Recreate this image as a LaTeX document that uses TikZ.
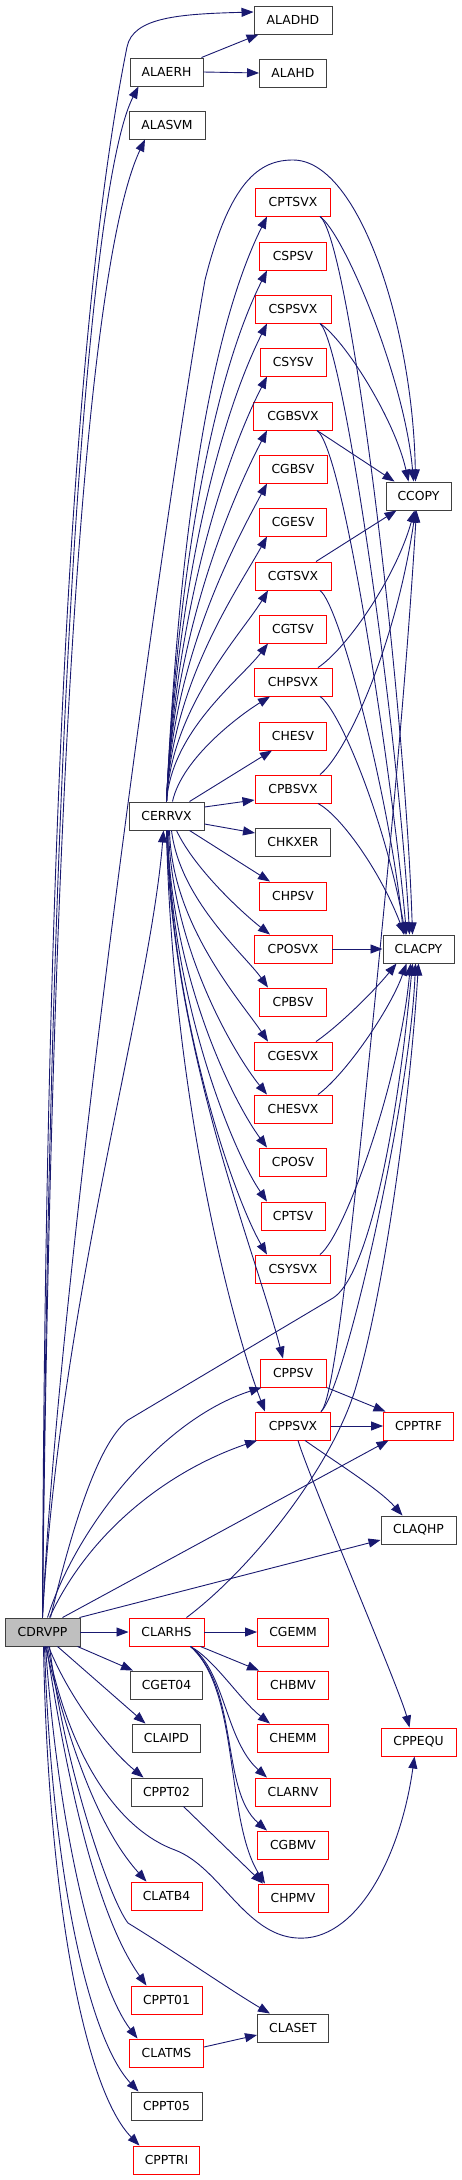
\documentclass[tikz,border=0pt]{standalone}
\usepackage{fontspec}
\newfontfamily\dvs{DejaVu Sans}
\usetikzlibrary{arrows.meta}
\definecolor{edgeblue}{HTML}{191970}
\definecolor{boxgray}{HTML}{404040}
\definecolor{boxred}{HTML}{FF0000}
\definecolor{rootfill}{HTML}{BFBFBF}
\tikzset{
  fn/.style={draw, line width=0.95pt, minimum height=28pt, inner sep=0pt,
    font=\dvs\fontsize{12.4}{14}\selectfont, text=black},
  bk/.style={fn, draw=boxgray},
  rd/.style={fn, draw=boxred},
  root/.style={fn, draw=boxgray, fill=rootfill},
  e/.style={draw=edgeblue, line width=0.9pt, -{Triangle[length=12pt,width=9pt]}, edgeblue}
}
\begin{document}
\begin{tikzpicture}[x=1pt,y=1pt]
\useasboundingbox (0,0) rectangle (461,-2180);
% nodes
\node[bk, minimum width=78pt] (ALADHD) at (293,-20) {ALADHD};
\node[bk, minimum width=73pt] (ALAERH) at (166.5,-72) {ALAERH};
\node[bk, minimum width=67pt] (ALAHD) at (293,-73) {ALAHD};
\node[bk, minimum width=76pt] (ALASVM) at (167,-125) {ALASVM};
\node[rd, minimum width=75pt] (CPTSVX) at (293,-202) {CPTSVX};
\node[rd, minimum width=67pt] (CSPSV) at (293,-256) {CSPSV};
\node[rd, minimum width=76pt] (CSPSVX) at (293,-309) {CSPSVX};
\node[rd, minimum width=66pt] (CSYSV) at (293,-362) {CSYSV};
\node[rd, minimum width=79pt] (CGBSVX) at (293,-416) {CGBSVX};
\node[rd, minimum width=68pt] (CGBSV) at (293,-469) {CGBSV};
\node[bk, minimum width=65pt] (CCOPY) at (418.5,-496) {CCOPY};
\node[rd, minimum width=67pt] (CGESV) at (293,-522) {CGESV};
\node[rd, minimum width=76pt] (CGTSVX) at (293,-576) {CGTSVX};
\node[rd, minimum width=67pt] (CGTSV) at (293,-629) {CGTSV};
\node[rd, minimum width=78pt] (CHPSVX) at (293,-682) {CHPSVX};
\node[rd, minimum width=67pt] (CHESV) at (293,-736) {CHESV};
\node[rd, minimum width=76pt] (CPBSVX) at (293,-789) {CPBSVX};
\node[bk, minimum width=75pt] (CERRVX) at (166.5,-816) {CERRVX};
\node[bk, minimum width=75pt] (CHKXER) at (293,-842) {CHKXER};
\node[rd, minimum width=67pt] (CHPSV) at (293,-896) {CHPSV};
\node[rd, minimum width=78pt] (CPOSVX) at (293,-949) {CPOSVX};
\node[bk, minimum width=71pt] (CLACPY) at (418.5,-949) {CLACPY};
\node[rd, minimum width=67pt] (CPBSV) at (293,-1002) {CPBSV};
\node[rd, minimum width=78pt] (CGESVX) at (293,-1056) {CGESVX};
\node[rd, minimum width=78pt] (CHESVX) at (293,-1109) {CHESVX};
\node[rd, minimum width=67pt] (CPOSV) at (293,-1162) {CPOSV};
\node[rd, minimum width=64pt] (CPTSV) at (293,-1216) {CPTSV};
\node[rd, minimum width=75pt] (CSYSVX) at (293,-1269) {CSYSVX};
\node[rd, minimum width=66pt] (CPPSV) at (293,-1373) {CPPSV};
\node[rd, minimum width=75pt] (CPPSVX) at (293,-1426) {CPPSVX};
\node[rd, minimum width=70pt] (CPPTRF) at (418.5,-1426) {CPPTRF};
\node[bk, minimum width=75pt] (CLAQHP) at (418.5,-1530) {CLAQHP};
\node[root, minimum width=75pt] (CDRVPP) at (42.5,-1632) {CDRVPP};
\node[rd, minimum width=75pt] (CLARHS) at (166.5,-1632) {CLARHS};
\node[rd, minimum width=71pt] (CGEMM) at (293,-1632) {CGEMM};
\node[bk, minimum width=72pt] (CGET04) at (166.5,-1685) {CGET04};
\node[rd, minimum width=71pt] (CHBMV) at (293,-1685) {CHBMV};
\node[bk, minimum width=68pt] (CLAIPD) at (166.5,-1738) {CLAIPD};
\node[rd, minimum width=71pt] (CHEMM) at (293,-1738) {CHEMM};
\node[rd, minimum width=75pt] (CPPEQU) at (418.5,-1742) {CPPEQU};
\node[bk, minimum width=71pt] (CPPT02) at (166.5,-1792) {CPPT02};
\node[rd, minimum width=75pt] (CLARNV) at (293,-1792) {CLARNV};
\node[rd, minimum width=71pt] (CGBMV) at (293,-1845) {CGBMV};
\node[rd, minimum width=70pt] (CHPMV) at (293,-1898) {CHPMV};
\node[rd, minimum width=71pt] (CLATB4) at (166.5,-1896) {CLATB4};
\node[rd, minimum width=71pt] (CPPT01) at (166.5,-2000) {CPPT01};
\node[bk, minimum width=71pt] (CLASET) at (293,-2028) {CLASET};
\node[rd, minimum width=74pt] (CLATMS) at (166.5,-2053) {CLATMS};
\node[bk, minimum width=71pt] (CPPT05) at (166.5,-2106) {CPPT05};
\node[rd, minimum width=66pt] (CPPTRI) at (166.5,-2160) {CPPTRI};
% CDRVPP upward edges
\draw[e] (CDRVPP.north) .. controls (45,-900) and (70,-330) .. (127,-47) .. controls (133,-17) and (180,-14) .. ([yshift=8pt]ALADHD.west);
\draw[e] (CDRVPP.north) .. controls (50,-700) and (90,-180) .. ([xshift=-28pt]ALAERH.south);
\draw[e] (CDRVPP.north) .. controls (52,-750) and (88,-260) .. ([xshift=-22pt]ALASVM.south);
\draw[e] ([xshift=-2pt]ALAERH.north east) -- ([xshift=5pt]ALADHD.south west);
\draw[e] (ALAERH.east) -- (ALAHD.west);
\draw[e] (CDRVPP.north) .. controls (60,-1250) and (170,-480) .. (205,-280) .. controls (230,-180) and (260,-160) .. (293,-160) .. controls (360,-160) and (413,-330) .. ([xshift=-3pt]CCOPY.north);
\draw[e] (CDRVPP.north) .. controls (60,-1300) and (150,-1000) .. ([xshift=-3pt]CERRVX.south);
% CERRVX upper edges
\draw[e] (CERRVX.north) .. controls (179,-538) and (209,-333) .. ([xshift=-26pt]CPTSVX.south);
\draw[e] (CERRVX.north) .. controls (178,-563) and (214,-376) .. ([xshift=-26pt]CSPSV.south);
\draw[e] (CERRVX.north) .. controls (177,-586) and (219,-419) .. ([xshift=-26pt]CSPSVX.south);
\draw[e] (CERRVX.north) .. controls (176,-610) and (224,-461) .. ([xshift=-26pt]CSYSV.south);
\draw[e] (CERRVX.north) .. controls (174,-635) and (229,-504) .. ([xshift=-26pt]CGBSVX.south);
\draw[e] (CERRVX.north) .. controls (173,-658) and (233,-547) .. ([xshift=-26pt]CGBSV.south);
\draw[e] (CERRVX.north) .. controls (172,-682) and (238,-589) .. ([xshift=-26pt]CGESV.south);
\draw[e] (CERRVX.north) .. controls (171,-707) and (243,-632) .. ([xshift=-25pt]CGTSVX.south);
\draw[e] (CERRVX.north) .. controls (172,-730) and (240,-680) .. ([xshift=-25pt]CGTSV.south);
\draw[e] ([xshift=6pt]CERRVX.north) .. controls (182,-758) and (240,-715) .. ([xshift=-23pt]CHPSVX.south);
\draw[e] ([xshift=23pt]CERRVX.north) -- ([xshift=-21pt]CHESV.south);
\draw[e] ([yshift=9pt]CERRVX.east) -- ([yshift=-11pt]CPBSVX.west);
\draw[e] ([yshift=-8pt]CERRVX.east) -- ([yshift=9pt]CHKXER.west);
% CERRVX lower edges
\draw[e] ([xshift=23pt]CERRVX.south) -- ([xshift=-23pt]CHPSV.north);
\draw[e] ([xshift=10pt]CERRVX.south) .. controls (195,-870) and (245,-915) .. ([xshift=-23pt]CPOSVX.north);
\draw[e] ([xshift=5pt]CERRVX.south) .. controls (180,-900) and (245,-955) .. ([xshift=-25pt]CPBSV.north);
\draw[e] ([xshift=3pt]CERRVX.south) .. controls (172,-925) and (240,-1000) .. ([xshift=-25pt]CGESVX.north);
\draw[e] ([xshift=2pt]CERRVX.south) .. controls (172,-950) and (235,-1055) .. ([xshift=-26pt]CHESVX.north);
\draw[e] ([xshift=1pt]CERRVX.south) .. controls (171,-975) and (232,-1100) .. ([xshift=-26pt]CPOSV.north);
\draw[e] ([xshift=1pt]CERRVX.south) .. controls (171,-1000) and (232,-1150) .. ([xshift=-26pt]CPTSV.north);
\draw[e] ([xshift=1pt]CERRVX.south) .. controls (171,-1020) and (235,-1200) .. ([xshift=-26pt]CSYSVX.north);
\draw[e] (CERRVX.south) .. controls (172,-1050) and (255,-1250) .. ([xshift=-10pt]CPPSV.north);
\draw[e] (CERRVX.south) .. controls (172,-1090) and (230,-1320) .. ([xshift=-28pt]CPPSVX.north);
% to CCOPY / CLACPY
\draw[e] ([xshift=27pt]CPTSVX.south) .. controls (345,-235) and (405,-380) .. ([xshift=-5pt]CCOPY.north);
\draw[e] ([xshift=27pt]CPTSVX.south) .. controls (350,-240) and (405,-700) .. ([xshift=-6pt]CLACPY.north);
\draw[e] ([xshift=27pt]CSPSVX.south) .. controls (345,-340) and (395,-420) .. ([xshift=-10pt]CCOPY.north);
\draw[e] ([xshift=27pt]CSPSVX.south) .. controls (345,-345) and (400,-750) .. ([xshift=-9pt]CLACPY.north);
\draw[e] ([xshift=24pt]CGBSVX.south) -- ([xshift=-24pt]CCOPY.north);
\draw[e] ([xshift=24pt]CGBSVX.south) .. controls (345,-450) and (395,-800) .. ([xshift=-12pt]CLACPY.north);
\draw[e] ([xshift=23pt]CGTSVX.north) -- ([xshift=-22pt]CCOPY.south);
\draw[e] ([xshift=27pt]CGTSVX.south) .. controls (340,-605) and (390,-800) .. ([xshift=-15pt]CLACPY.north);
\draw[e] ([xshift=25pt]CHPSVX.north) .. controls (345,-650) and (395,-580) .. ([xshift=-4pt]CCOPY.south);
\draw[e] ([xshift=27pt]CHPSVX.south) .. controls (340,-710) and (385,-820) .. ([xshift=-13pt]CLACPY.north);
\draw[e] ([xshift=27pt]CPBSVX.north) .. controls (345,-755) and (395,-650) .. ([xshift=-3pt]CCOPY.south);
\draw[e] ([xshift=25pt]CPBSVX.south) .. controls (340,-815) and (380,-870) .. ([xshift=-14pt]CLACPY.north);
\draw[e] (CPOSVX.east) -- (CLACPY.west);
\draw[e] ([xshift=23pt]CGESVX.north) .. controls (340,-1025) and (375,-990) .. ([xshift=-22pt]CLACPY.south);
\draw[e] ([xshift=25pt]CHESVX.north) .. controls (345,-1075) and (390,-1010) .. ([xshift=-12pt]CLACPY.south);
\draw[e] ([xshift=27pt]CSYSVX.north) .. controls (345,-1235) and (400,-1080) .. ([xshift=-8pt]CLACPY.south);
\draw[e] ([xshift=28pt]CPPSVX.north) .. controls (345,-1390) and (410,-1100) .. ([xshift=-3pt]CLACPY.south);
\draw[e] ([xshift=28pt]CPPSVX.north) .. controls (335,-1400) and (355,-1200) .. (372,-1030) .. controls (385,-900) and (405,-700) .. ([xshift=-2pt]CCOPY.south);
\draw[e] ([xshift=8pt]CDRVPP.north) .. controls (68,-1545) and (95,-1445) .. (128,-1420) -- (333,-1298) .. controls (365,-1278) and (395,-1150) .. ([xshift=-6pt]CLACPY.south);
\draw[e] ([xshift=20pt]CLARHS.north) .. controls (250,-1570) and (330,-1470) .. (355,-1390) .. controls (385,-1290) and (410,-1100) .. (CLACPY.south);
% CPPSV / CPPSVX
\draw[e] (CPPSV.south east) -- ([xshift=-33pt]CPPTRF.north);
\draw[e] (CPPSVX.east) -- (CPPTRF.west);
\draw[e] ([xshift=12pt]CPPSVX.south) .. controls (340,-1465) and (380,-1490) .. ([xshift=-16pt]CLAQHP.north);
\draw[e] ([xshift=5pt]CPPSVX.south) .. controls (310,-1480) and (400,-1690) .. ([xshift=-9pt]CPPEQU.north);
% CDRVPP other edges
\draw[e] ([xshift=5pt]CDRVPP.north) .. controls (75,-1530) and (160,-1420) .. ([xshift=2pt]CPPSV.south west);
\draw[e] ([xshift=7pt]CDRVPP.north) .. controls (90,-1530) and (170,-1470) .. ([xshift=2pt]CPPSVX.south west);
\draw[e] ([xshift=20pt]CDRVPP.north) -- ([xshift=-30pt]CPPTRF.south);
\draw[e] ([xshift=-1pt]CDRVPP.north east) -- ([yshift=-10pt]CLAQHP.west);
\draw[e] (CDRVPP.east) -- (CLARHS.west);
\draw[e] ([xshift=-3pt]CDRVPP.south east) -- ([xshift=3pt]CGET04.north west);
\draw[e] ([xshift=15pt]CDRVPP.south) -- ([xshift=-21pt]CLAIPD.north);
\draw[e] ([xshift=6pt]CDRVPP.south) .. controls (70,-1700) and (110,-1750) .. ([xshift=-23pt]CPPT02.north);
\draw[e] ([xshift=3pt]CDRVPP.south) .. controls (70,-1750) and (100,-1830) .. ([xshift=-20pt]CLATB4.north);
\draw[e] ([xshift=5pt]CDRVPP.south) .. controls (70,-1760) and (120,-1830) .. (175,-1850) .. controls (220,-1867) and (245,-1935) .. (297,-1938) .. controls (355,-1942) and (400,-1860) .. ([xshift=-4pt]CPPEQU.south);
\draw[e] ([xshift=7pt]CDRVPP.south) .. controls (65,-1770) and (110,-1900) .. (128,-1923) .. controls (180,-1955) and (230,-1990) .. ([xshift=-23pt]CLASET.north);
\draw[e] ([xshift=4pt]CDRVPP.south) .. controls (70,-1800) and (100,-1920) .. ([xshift=-20pt]CPPT01.north);
\draw[e] ([xshift=3pt]CDRVPP.south) .. controls (60,-1850) and (100,-1990) .. ([xshift=-29pt]CLATMS.north);
\draw[e] ([xshift=2pt]CDRVPP.south) .. controls (52,-1880) and (90,-2040) .. ([xshift=-28pt]CPPT05.north);
\draw[e] ([xshift=1pt]CDRVPP.south) .. controls (48,-1900) and (85,-2090) .. ([xshift=-27pt]CPPTRI.north);
\draw[e] ([yshift=6pt]CLATMS.east) -- ([yshift=-7pt]CLASET.west);
\draw[e] ([xshift=17pt]CPPT02.south) -- ([xshift=-30pt]CHPMV.north);
% CLARHS edges
\draw[e] (CLARHS.east) -- (CGEMM.west);
\draw[e] ([xshift=-4pt]CLARHS.south east) -- ([xshift=2pt]CHBMV.north west);
\draw[e] ([xshift=24pt]CLARHS.south) .. controls (215,-1660) and (240,-1700) .. ([xshift=-23pt]CHEMM.north);
\draw[e] ([xshift=24pt]CLARHS.south) .. controls (225,-1670) and (225,-1740) .. ([xshift=-26pt]CLARNV.north);
\draw[e] ([xshift=24pt]CLARHS.south) .. controls (240,-1690) and (220,-1790) .. ([xshift=-26pt]CGBMV.north);
\draw[e] ([xshift=24pt]CLARHS.south) .. controls (240,-1690) and (225,-1820) .. ([xshift=-28pt]CHPMV.north);
\end{tikzpicture}
\end{document}
